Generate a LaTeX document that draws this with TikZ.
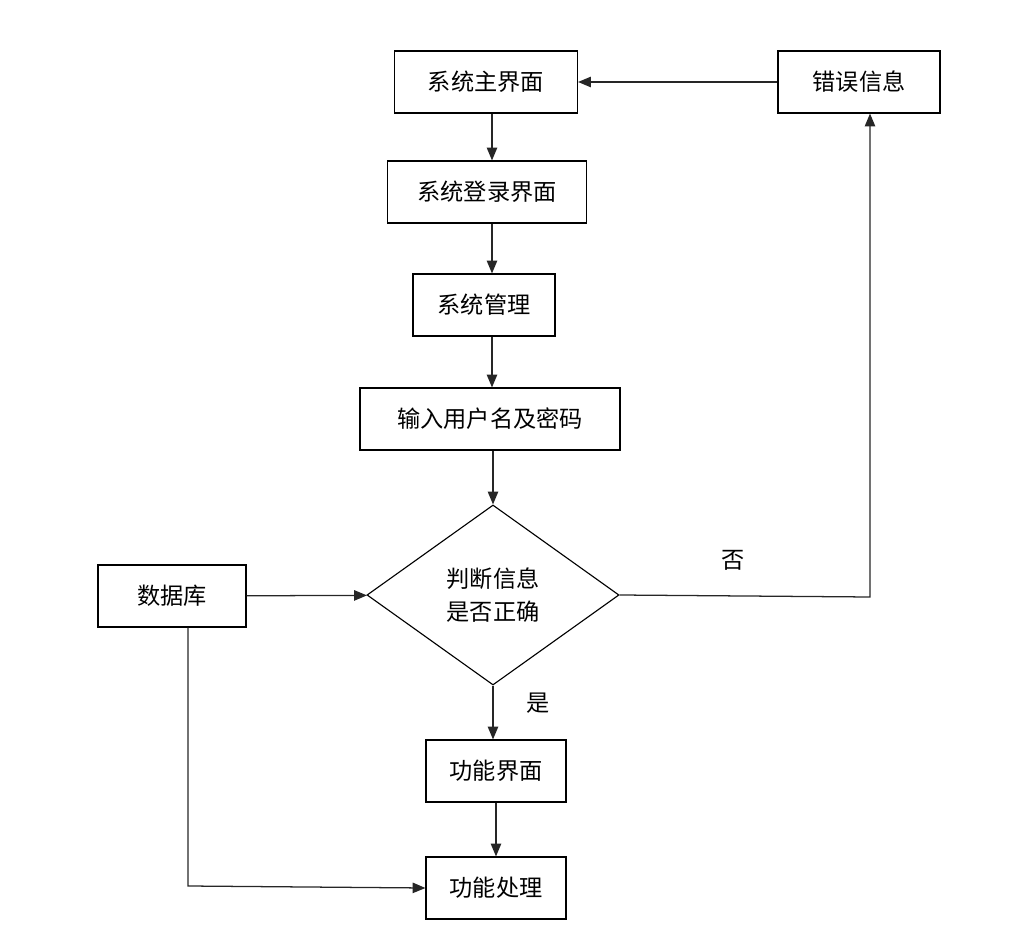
\documentclass[tikz,border=0pt]{standalone}
\usepackage{fontspec}
\setmainfont{Noto Sans CJK SC}
\usetikzlibrary{arrows.meta,shapes.geometric}

\begin{document}
\begin{tikzpicture}[x=0.025cm, y=-0.025cm,
    box/.style={draw, line width=0.8pt, minimum width=#1*0.025cm, minimum height=1.55cm, font=\fontsize{16.5}{20}\selectfont},
    judgebox/.style={draw, diamond, line width=0.8pt, aspect=1.4, minimum width=6.3cm, minimum height=4.5cm, inner sep=0pt, align=center, font=\fontsize{16.5}{24}\selectfont},
    arr/.style={-{Triangle[length=3.2mm,width=2.6mm]}, line width=0.9pt, draw=black!85}]
    \useasboundingbox (0,0) rectangle (1020,944);

    \node[box=183] (main) at (486,82) {系统主界面};
    \node[box=162] (err) at (859,82) {错误信息};
    \node[box=199] (login) at (487,192) {系统登录界面};
    \node[box=142] (manage) at (484,305) {系统管理};
    \node[box=260] (input) at (490,419) {输入用户名及密码};
    \node[judgebox] (judge) at (493,595) {判断信息\\是否正确};
    \node[box=148] (db) at (172,596) {数据库};
    \node[box=140] (func) at (496,771) {功能界面};
    \node[box=140] (proc) at (496,888) {功能处理};

    \coordinate (axis) at (492,0);
    \coordinate (c1) at (870,597);
    \coordinate (c2) at (188,886);

    \draw[arr] (main.south -| axis) -- (login.north -| axis);
    \draw[arr] (login.south -| axis) -- (manage.north -| axis);
    \draw[arr] (manage.south -| axis) -- (input.north -| axis);
    \draw[arr] (input.south -| judge) -- (judge.north);
    \draw[arr] (judge.south) -- (func.north -| judge); % si
    \draw[arr] (func) -- (proc);
    \draw[arr] (judge.east) -- (c1) -- (c1 |- err.south); % no
    \draw[arr] (err) -- (main);
    \draw[arr] (db) -- (judge);
    \draw[arr] (db.south -| c2) -- (c2) -- (proc.west);

    \node[font=\fontsize{16.5}{20}\selectfont] (no) at (733,560) {否};
    \node[font=\fontsize{16.5}{20}\selectfont] (yes) at (538,703) {是};
\end{tikzpicture}
\end{document}
